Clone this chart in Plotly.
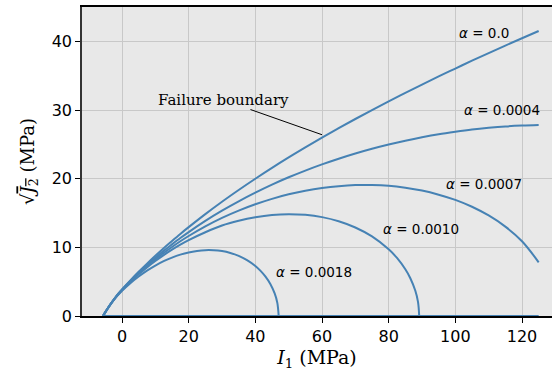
import plotly.graph_objects as go

# I1 sample positions (MPa) and sqrt(J2) values (MPa)
i1_grid = [-5.7, -5, -4, -3, -2, -1, 0, 2.5, 5, 7.5, 10, 12.5, 15, 17.5, 20, 25, 30, 35, 40, 45, 50,
           55, 60, 65, 70, 75, 80, 85, 90, 95, 100, 105, 110, 115, 120, 125]

i1_a0 = i1_grid
j_a0 = [0, 0.562, 1.323, 2.035, 2.697, 3.311, 3.875, 5.19, 6.44, 7.63, 8.77, 9.87, 10.92, 11.95, 12.94,
        14.84, 16.64, 18.35, 19.99, 21.57, 23.09, 24.55, 25.97, 27.35, 28.69, 29.99, 31.26, 32.49, 33.70,
        34.89, 36.04, 37.18, 38.29, 39.38, 40.45, 41.51]

i1_a4 = i1_grid
j_a4 = [0, 0.561, 1.318, 2.023, 2.676, 3.278, 3.828, 5.10, 6.29, 7.41, 8.47, 9.48, 10.43, 11.35, 12.22,
        13.85, 15.34, 16.70, 17.96, 19.13, 20.20, 21.18, 22.08, 22.91, 23.67, 24.36, 24.98, 25.53, 26.03,
        26.47, 26.83, 27.15, 27.40, 27.60, 27.73, 27.81]

i1_a7 = i1_grid
j_a7 = [0, 0.561, 1.315, 2.015, 2.660, 3.253, 3.793, 5.03, 6.18, 7.25, 8.25, 9.18, 10.05, 10.88, 11.65,
        13.05, 14.29, 15.35, 16.27, 17.06, 17.72, 18.24, 18.64, 18.91, 19.06, 19.07, 18.96, 18.68, 18.27,
        17.67, 16.91, 15.91, 14.64, 13.02, 10.89, 7.82]

i1_a10 = [-5.7, -5, -4, -3, -2, -1, 0, 2.5, 5, 7.5, 10, 12.5, 15, 17.5, 20, 25, 30, 35, 40, 45, 50,
          55, 60, 65, 70, 75, 80, 82.5, 85, 86.5, 88, 88.8, 89.16]
j_a10 = [0, 0.560, 1.311, 2.006, 2.644, 3.228, 3.757, 4.96, 6.07, 7.08, 8.01, 8.87, 9.66, 10.39, 11.05,
         12.20, 13.18, 13.87, 14.39, 14.72, 14.83, 14.73, 14.40, 13.80, 12.89, 11.59, 9.71, 8.45, 6.80,
         5.50, 3.67, 2.06, 0]

i1_a18 = [-5.7, -5, -4, -3, -2, -1, 0, 2.5, 5, 7.5, 10, 12.5, 15, 17.5, 20, 22.5, 25, 27.5, 30, 32.5,
          35, 37.5, 40, 41.5, 43, 44.5, 45.8, 46.6, 47.0]
j_a18 = [0, 0.558, 1.301, 1.982, 2.601, 3.160, 3.660, 4.77, 5.75, 6.61, 7.35, 7.99, 8.51, 8.94, 9.26,
         9.47, 9.59, 9.58, 9.45, 9.18, 8.76, 8.14, 7.29, 6.61, 5.77, 4.67, 3.29, 1.92, 0]

base_i1 = [-5.7, 125]
base_j = [0, 0]

alpha_labels = ["0.0", "0.0004", "0.0007", "0.0010", "0.0018"]
label_x = [100.5, 101.9, 96.7, 77.6, 45.6]
label_y = [41.2, 30.0, 19.2, 12.7, 6.4]

x_ticks = [0, 20, 40, 60, 80, 100, 120]
y_ticks = [0, 10, 20, 30, 40]

COLOR = "#4682b4"

fig = go.Figure()
for xs, ys in [(i1_a0, j_a0), (i1_a4, j_a4), (i1_a7, j_a7), (i1_a10, j_a10), (i1_a18, j_a18)]:
    fig.add_trace(go.Scatter(x=xs, y=ys, mode="lines",
                             line=dict(color=COLOR, width=2, shape="spline", smoothing=1.0),
                             showlegend=False, hoverinfo="skip", cliponaxis=False))
fig.add_trace(go.Scatter(x=base_i1, y=base_j, mode="lines",
                         line=dict(color=COLOR, width=2),
                         showlegend=False, hoverinfo="skip", cliponaxis=False))

for lab, lx, ly in zip(alpha_labels, label_x, label_y):
    fig.add_annotation(x=lx, y=ly, text="<i>α</i> = " + lab, showarrow=False,
                       xanchor="left", yanchor="middle",
                       font=dict(family="DejaVu Sans", size=13.5, color="black"))

fig.add_annotation(x=60, y=26.4, ax=30.45, ay=31.45, axref="x", ayref="y",
                   text="Failure boundary", showarrow=True, arrowhead=0, arrowwidth=1,
                   arrowcolor="black", standoff=0, borderpad=0,
                   font=dict(family="DejaVu Serif", size=15, color="black"))

fig.update_layout(
    width=552, height=374,
    margin=dict(l=82, r=0, t=7, b=58),
    paper_bgcolor="white", plot_bgcolor="#e8e8e8",
    xaxis=dict(range=[-12, 129], tickvals=x_ticks, ticks="outside", ticklen=5, tickwidth=1.2,
               tickcolor="black", showline=True, linecolor="black", linewidth=1.5, mirror=True,
               showgrid=True, gridcolor="#c8c8c8", gridwidth=1, zeroline=False,
               tickfont=dict(family="DejaVu Sans", size=16, color="black"),
               title=dict(text="<i>I</i><sub>1</sub> (MPa)", standoff=6,
                          font=dict(family="DejaVu Serif", size=19, color="black"))),
    yaxis=dict(range=[0, 45], tickvals=y_ticks, ticks="outside", ticklen=5, tickwidth=1.2,
               tickcolor="black", showline=True, linecolor="#333333", linewidth=1.5,
               showgrid=True, gridcolor="#c8c8c8", gridwidth=1, zeroline=False,
               tickfont=dict(family="DejaVu Sans", size=16, color="black"),
               title=dict(text="√<span style=\"text-decoration:overline\"><i>J</i><sub>2</sub></span> (MPa)",
                          standoff=12,
                          font=dict(family="DejaVu Serif", size=18, color="black"))),
)

fig.write_html("out.html", config={"displayModeBar": False},
               post_script="document.body.style.margin='0px';")
